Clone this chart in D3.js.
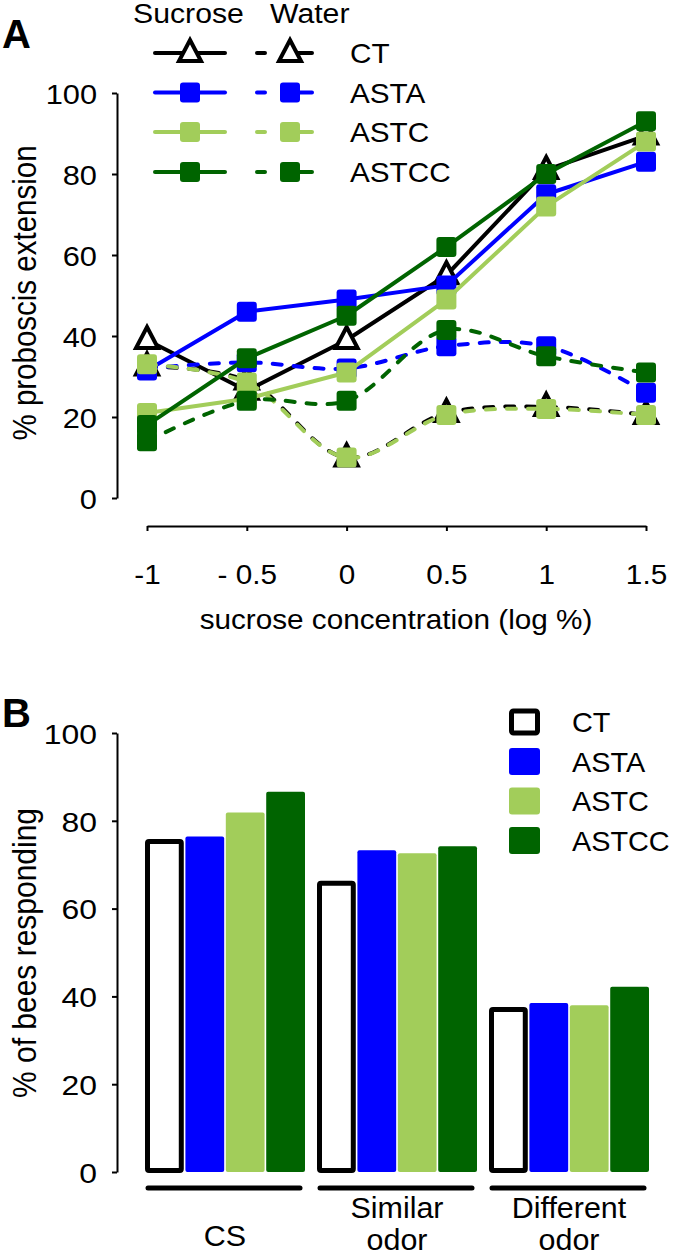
<!DOCTYPE html>
<html><head><meta charset="utf-8">
<script src="https://cdn.jsdelivr.net/npm/d3@7"></script>
<style>
body{margin:0;background:#fff}
svg{display:block}
text{font-family:"Liberation Sans",Arial,Helvetica,sans-serif;fill:#000}
</style>
</head><body>
<svg id="chart" width="673" height="1258"></svg>
<script>
// ---------- data ----------
const concentrations = [-1, -0.5, 0, 0.5, 1, 1.5];
const concLabels = ["-1", "- 0.5", "0", "0.5", "1", "1.5"];
const groups = ["CT", "ASTA", "ASTC", "ASTCC"];
const groupColors = ["#000000", "#0000ff", "#a2cd5a", "#006400"];

const ctSucrose    = [39, 26.5, 39, 55, 81, 89.5];
const astaSucrose  = [31.5, 46, 49, 52.5, 75, 83];
const astcSucrose  = [21, 24.5, 31, 49, 72, 88];
const astccSucrose = [18, 34.5, 45, 62, 80, 93];

const ctWater    = [32.5, 29, 10, 21, 22.5, 20.5];
const astaWater  = [32, 33.5, 32, 37.5, 37.5, 26];
const astcWater  = [33, 28.5, 10, 20.5, 22, 20.5];
const astccWater = [14, 24, 24, 41.5, 35, 31];

const yTicks = [0, 20, 40, 60, 80, 100];

const categoriesB = ["CS", "Similar odor", "Different odor"];
const categoryLines = [["CS"], ["Similar", "odor"], ["Different", "odor"]];
const ctResponding    = [75.3, 65.8, 37.0];
const astaResponding  = [76.4, 73.3, 38.5];
const astcResponding  = [81.9, 72.6, 38.0];
const astccResponding = [86.6, 74.2, 42.2];

const sucroseSeries = [ctSucrose, astaSucrose, astcSucrose, astccSucrose];
const waterSeries = [ctWater, astaWater, astcWater, astccWater];
const respondingSeries = [ctResponding, astaResponding, astcResponding, astccResponding];

// ---------- helpers ----------
const svg = d3.select("#chart");
function txt(g, x, y, s, o = {}) {
  const fs = o.fs || 27, sx = o.sx || 1.1;
  return g.append("text")
    .attr("transform", `translate(${x},${y}) scale(${sx},1)`)
    .attr("text-anchor", o.anchor || "start")
    .style("font-size", fs + "px")
    .style("font-weight", o.bold ? "bold" : "normal")
    .text(s);
}
function triPath() { return "M0,-13L11,8L-11,8Z"; }
function drawMarker(g, i, cx, cy) {
  if (i === 0) {
    g.append("path").attr("d", triPath())
      .attr("transform", `translate(${cx},${cy})`)
      .attr("fill", "#fff").attr("stroke", "#000").attr("stroke-width", 4)
      .attr("stroke-linejoin", "miter");
  } else {
    g.append("rect").attr("x", cx - 10).attr("y", cy - 10)
      .attr("width", 20).attr("height", 20).attr("rx", 3)
      .attr("fill", groupColors[i]);
  }
}

// ================= PANEL A =================
const gA = svg.append("g");
const xA = d3.scaleLinear().domain([-1, 1.5]).range([147, 646]);
const yA = d3.scaleLinear().domain([0, 100]).range([498, 93]);

// axes
const axL = gA.append("g").attr("transform", "translate(117,0)")
  .call(d3.axisLeft(yA).tickValues(yTicks).tickSize(5).tickSizeOuter(0));
axL.selectAll(".tick text").attr("x", -20 / 1.1).attr("dy", "0.36em")
  .attr("transform", "scale(1.1,1)").style("font-size", "28px")
  .style("font-family", '"Liberation Sans",Arial,sans-serif');
const axB = gA.append("g").attr("transform", "translate(0,526)")
  .call(d3.axisBottom(xA).tickValues(concentrations).tickSize(5).tickSizeOuter(0)
    .tickFormat((d, i) => concLabels[i]));
axB.selectAll(".tick text").attr("y", 58).attr("dy", 0)
  .attr("transform", "scale(1.1,1)").style("font-size", "27px")
  .style("font-family", '"Liberation Sans",Arial,sans-serif');
[axL, axB].forEach(a => {
  a.selectAll("path,line").attr("stroke", "#000").attr("stroke-width", 2);
});

// axis titles
txt(gA, 396, 629, "sucrose concentration (log %)", { anchor: "middle", fs: 27.5, sx: 1.08 });
gA.append("text")
  .attr("transform", "translate(36,293) scale(1.12,1) rotate(-90)")
  .attr("text-anchor", "middle").style("font-size", "29.5px")
  .text("% proboscis extension");

// panel letter
txt(gA, 2, 48, "A", { fs: 40, sx: 1.0, bold: true });

// lines & markers
const lineSolid = d3.line().x((d, j) => xA(concentrations[j])).y(d => yA(d));
const lineCurve = d3.line().x((d, j) => xA(concentrations[j])).y(d => yA(d))
  .curve(d3.curveCatmullRom.alpha(0.5));
groups.forEach((name, i) => {
  const g = gA.append("g");
  g.append("path").attr("d", lineCurve(waterSeries[i]))
    .attr("fill", "none").attr("stroke", groupColors[i]).attr("stroke-width", 4)
    .attr("stroke-dasharray", "9,12").attr("stroke-linecap", "round");
  g.append("path").attr("d", lineSolid(sucroseSeries[i]))
    .attr("fill", "none").attr("stroke", groupColors[i]).attr("stroke-width", 4)
    .attr("stroke-linejoin", "round");
  waterSeries[i].forEach((v, j) => drawMarker(g, i, xA(concentrations[j]), yA(v)));
  sucroseSeries[i].forEach((v, j) => drawMarker(g, i, xA(concentrations[j]), yA(v)));
});

// legend A
const legA = gA.append("g");
txt(legA, 133, 23, "Sucrose", { fs: 27, sx: 1.12 });
txt(legA, 270, 23, "Water", { fs: 27, sx: 1.12 });
const legRowsA = [53, 92.5, 132, 172];
groups.forEach((name, i) => {
  const y = legRowsA[i];
  legA.append("line").attr("x1", 155).attr("x2", 225).attr("y1", y).attr("y2", y)
    .attr("stroke", groupColors[i]).attr("stroke-width", 4).attr("stroke-linecap", "round");
  drawMarker(legA, i, 190, y);
  legA.append("line").attr("x1", 257).attr("x2", 312).attr("y1", y).attr("y2", y)
    .attr("stroke", groupColors[i]).attr("stroke-width", 4).attr("stroke-linecap", "round")
    .attr("stroke-dasharray", "8,20,100");
  drawMarker(legA, i, 290, y);
  txt(legA, 350, y + 10, name, { fs: 27, sx: 1.1 });
});

// ================= PANEL B =================
const gB = svg.append("g");
const yB = d3.scaleLinear().domain([0, 100]).range([1172, 733]);
const xB = d3.scaleBand().domain(categoriesB).range([145, 649]).paddingInner(12 / 172).paddingOuter(0);
const xS = d3.scaleBand().domain(groups).range([0, xB.bandwidth()]).paddingInner(0.04).paddingOuter(0);

const axBL = gB.append("g").attr("transform", "translate(117,0)")
  .call(d3.axisLeft(yB).tickValues(yTicks).tickSize(5).tickSizeOuter(0));
axBL.selectAll(".tick text").attr("x", -20 / 1.12).attr("dy", "0.36em")
  .attr("transform", "scale(1.12,1)").style("font-size", "28.5px")
  .style("font-family", '"Liberation Sans",Arial,sans-serif');
axBL.selectAll("path,line").attr("stroke", "#000").attr("stroke-width", 2);

gB.append("text")
  .attr("transform", "translate(36,953) scale(1.1,1) rotate(-90)")
  .attr("text-anchor", "middle").style("font-size", "30px")
  .text("% of bees responding");

txt(gB, 2, 727, "B", { fs: 40, sx: 1.0, bold: true });

// bars
categoriesB.forEach((cat, c) => {
  const g = gB.append("g").attr("transform", `translate(${xB(cat)},0)`);
  groups.forEach((name, i) => {
    const v = respondingSeries[i][c];
    const x = xS(name), w = xS.bandwidth();
    if (i === 0) {
      g.append("rect").attr("x", x + 2.5).attr("y", yB(v))
        .attr("width", w - 5).attr("height", yB(0) - yB(v) - 1.5)
        .attr("fill", "#fff").attr("stroke", "#000").attr("stroke-width", 5)
        .attr("rx", 1.5);
    } else {
      g.append("rect").attr("x", x).attr("y", yB(v))
        .attr("width", w).attr("height", yB(0) - yB(v))
        .attr("fill", groupColors[i]).attr("rx", 2);
    }
  });
  // bracket
  g.append("line").attr("x1", 3).attr("x2", xB.bandwidth() - 5)
    .attr("y1", 1188).attr("y2", 1188)
    .attr("stroke", "#000").attr("stroke-width", 5).attr("stroke-linecap", "round");
  // label
  const cx = xB.bandwidth() / 2;
  const lines = categoryLines[c];
  if (lines.length === 1) {
    txt(g, cx, 1246, lines[0], { anchor: "middle", fs: 29, sx: 1.05 });
  } else {
    txt(g, cx, 1218, lines[0], { anchor: "middle", fs: 29, sx: 1.05 });
    txt(g, cx, 1250, lines[1], { anchor: "middle", fs: 29, sx: 1.05 });
  }
});

// legend B
const legB = gB.append("g");
const legRowsB = [722, 761.5, 801, 840.5];
groups.forEach((name, i) => {
  const y = legRowsB[i];
  if (i === 0) {
    legB.append("rect").attr("x", 511.5).attr("y", y - 11).attr("width", 26).attr("height", 22)
      .attr("fill", "#fff").attr("stroke", "#000").attr("stroke-width", 5).attr("rx", 2);
  } else {
    legB.append("rect").attr("x", 509).attr("y", y - 13.5).attr("width", 31).attr("height", 27)
      .attr("fill", groupColors[i]).attr("rx", 3);
  }
  txt(legB, 572, y + 10, name, { fs: 28, sx: 1.03 });
});
</script>
</body></html>
